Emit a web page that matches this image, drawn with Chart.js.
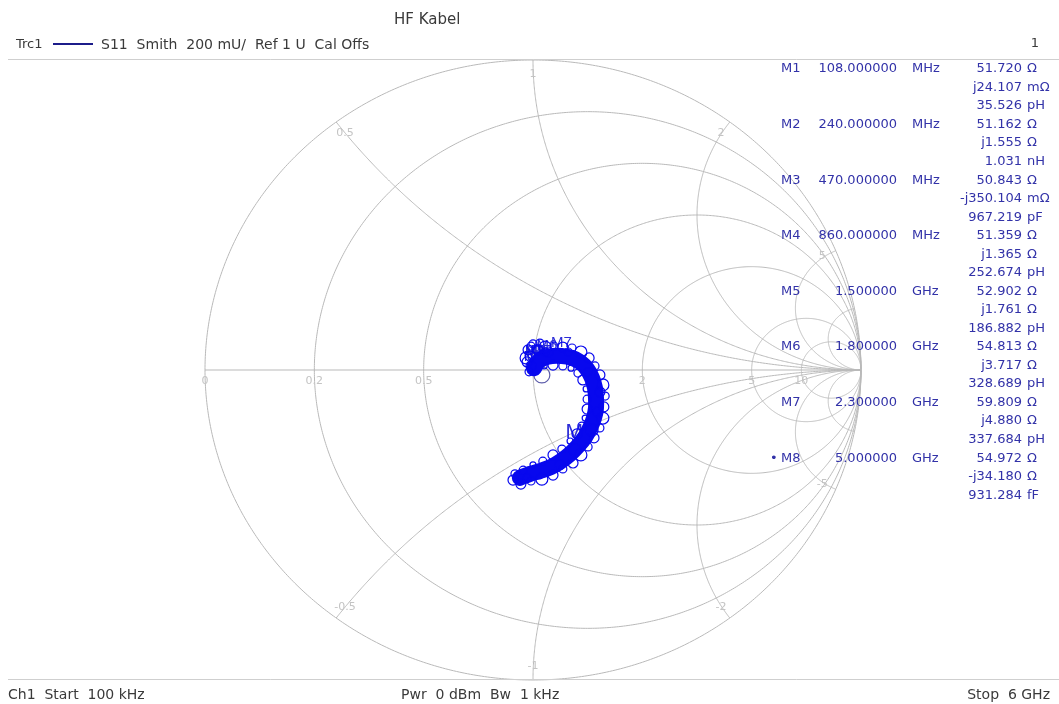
<!DOCTYPE html>
<html>
<head>
<meta charset="utf-8">
<title>HF Kabel – S11 Smith</title>
<script src="https://cdn.jsdelivr.net/npm/chart.js@4/dist/chart.umd.min.js"></script>
<style>
  html, body { margin: 0; padding: 0; background: #ffffff; overflow: hidden; }
  canvas { display: block; }
</style>
</head>
<body>
<canvas id="smith" width="1059" height="704"></canvas>
<script>
// Smith grid: constant-resistance circles and constant-reactance arcs (normalised to 50 Ω)
const resistanceCircles = [0, 0.2, 0.5, 1, 2, 5, 10];
const resistanceLabels  = ['0', '0.2', '0.5', '', '2', '5', '10'];
const reactanceArcs     = [0.5, 1, 2, 5, 10, -0.5, -1, -2, -5, -10];
const reactanceLabels   = ['0.5', '1', '2', '5', '', '-0.5', '-1', '-2', '-5', ''];

// S11 trace, reflection coefficient (real / imaginary), centre line of the measured band
const traceRe = [0.003, 0.015, 0.034, 0.058, 0.088, 0.119, 0.143, 0.165, 0.180, 0.189, 0.192,
                 0.192, 0.186, 0.174, 0.159, 0.137, 0.113, 0.085, 0.055, 0.021, -0.009, -0.040];
const traceIm = [0.006, 0.026, 0.039, 0.045, 0.045, 0.039, 0.026, 0.003, -0.026, -0.058, -0.090,
                 -0.123, -0.155, -0.187, -0.216, -0.245, -0.271, -0.294, -0.313, -0.326, -0.335, -0.348];

// scattered sweep points around the noisy trace
const spreadRe = [-0.009, 0.009, 0.037, 0.064, 0.091, 0.119, 0.146, 0.171, 0.189, 0.204, 0.213,
                  0.220, 0.216, 0.213, 0.204, 0.186, 0.168, 0.146, 0.122, 0.091, 0.061, 0.027,
                  -0.006, -0.037, -0.061,
                  -0.012, 0.034, 0.061, 0.091, 0.116, 0.137, 0.152, 0.162, 0.165, 0.165, 0.159,
                  0.149, 0.134, 0.113, 0.088, 0.061, 0.030, 0.000, -0.030, -0.055,
                  0.046, 0.107, 0.204, 0.180, 0.082, -0.018, -0.006, -0.018, 0.021, 0.198, 0.128, 0.168,
                  -0.015, 0.000, -0.021, 0.015, 0.037, -0.006];
const spreadIm = [0.045, 0.068, 0.074, 0.077, 0.074, 0.071, 0.058, 0.039, 0.013, -0.016, -0.048,
                  -0.084, -0.119, -0.155, -0.187, -0.219, -0.248, -0.274, -0.300, -0.319, -0.339, -0.352,
                  -0.358, -0.368, -0.355,
                  -0.006, 0.013, 0.016, 0.013, 0.006, -0.010, -0.032, -0.061, -0.094, -0.126, -0.155,
                  -0.181, -0.206, -0.229, -0.255, -0.274, -0.294, -0.306, -0.323, -0.335,
                  0.058, 0.058, -0.071, -0.194, -0.306, -0.348, 0.077, 0.026, 0.087, -0.135, -0.258, -0.006,
                  0.065, 0.084, 0.039, 0.065, 0.058, 0.013];
const spreadSize = [5, 4, 6, 4, 5, 4, 6, 5, 4, 5, 6,
                    4, 5, 6, 4, 5, 4, 6, 5, 4, 5, 6,
                    4, 5, 5,
                    4, 3, 5, 4, 3, 4, 5, 3, 4, 5, 3,
                    4, 5, 3, 4, 5, 4, 3, 4, 4,
                    5, 4, 5, 6, 5, 4, 4, 5, 4, 5, 6, 4,
                    5, 4, 6, 5, 4, 5];

// reference point symbol near the match point
const refSymbolRe = [0.027];
const refSymbolIm = [-0.016];

// marker table
const Z0 = 50;
const markerNames = ['M1', 'M2', 'M3', 'M4', 'M5', 'M6', 'M7', 'M8'];
const markerFreq  = ['108.000000', '240.000000', '470.000000', '860.000000', '1.500000', '1.800000', '2.300000', '5.000000'];
const markerFreqUnit = ['MHz', 'MHz', 'MHz', 'MHz', 'GHz', 'GHz', 'GHz', 'GHz'];
const markerR = [51.720, 51.162, 50.843, 51.359, 52.902, 54.813, 59.809, 54.972];     // Ω
const markerX = [0.024107, 1.555, -0.350104, 1.365, 1.761, 3.717, 4.880, -34.180];     // Ω
const markerLC = ['35.526', '1.031', '967.219', '252.674', '186.882', '328.689', '337.684', '931.284'];
const markerLCUnit = ['pH', 'nH', 'pF', 'pH', 'pH', 'pH', 'pH', 'fF'];
const activeMarker = 7;

const gridColor = '#b9b9b9';
const gridLabelColor = '#c4c4c4';
const traceColor = 'rgb(8, 8, 238)';
const tableColor = 'rgb(50, 50, 168)';
const textFont = '"DejaVu Sans", Verdana, sans-serif';

// impedance -> reflection coefficient
function toGamma(R, X) {
  const r = R / Z0, x = X / Z0;
  const a = r - 1, c = r + 1;
  const den = c * c + x * x;
  return { x: (a * c + x * x) / den, y: (x * c - a * x) / den };
}

function formatReactance(X) {
  const sign = X < 0 ? '-j' : 'j';
  const v = Math.abs(X);
  return v < 1 ? [sign + (v * 1000).toFixed(3), 'mΩ'] : [sign + v.toFixed(3), 'Ω'];
}

const markerPoints = markerR.map((R, i) => toGamma(R, markerX[i]));

const smithGrid = {
  id: 'smithGrid',
  beforeDatasetsDraw(chart) {
    const { ctx } = chart;
    const sx = chart.scales.x, sy = chart.scales.y;
    const P = (gr, gi) => [sx.getPixelForValue(gr), sy.getPixelForValue(gi)];
    ctx.save();
    ctx.strokeStyle = gridColor;
    ctx.lineWidth = 1;

    // constant resistance circles
    resistanceCircles.forEach(r => {
      const c = r / (1 + r), rad = 1 / (1 + r);
      ctx.beginPath();
      for (let i = 0; i <= 720; i++) {
        const t = i * Math.PI / 360;
        const [X, Y] = P(c + rad * Math.cos(t), rad * Math.sin(t));
        if (i === 0) ctx.moveTo(X, Y); else ctx.lineTo(X, Y);
      }
      ctx.stroke();
    });

    // real axis
    ctx.beginPath();
    let [ax, ay] = P(-1, 0); ctx.moveTo(ax, ay);
    [ax, ay] = P(1, 0); ctx.lineTo(ax, ay);
    ctx.stroke();

    // constant reactance arcs, clipped to the unit circle
    reactanceArcs.forEach(xv => {
      const a = Math.abs(xv), s = Math.sign(xv);
      const cy = 1 / a, rad = 1 / a;
      const ex = (a * a - 1) / (a * a + 1), ey = 2 * a / (a * a + 1);
      let t2 = Math.atan2(ey - cy, ex - 1);
      if (t2 > -Math.PI / 2) t2 -= 2 * Math.PI;
      const t1 = -Math.PI / 2;
      ctx.beginPath();
      for (let i = 0; i <= 400; i++) {
        const t = t1 + (t2 - t1) * i / 400;
        const [X, Y] = P(1 + rad * Math.cos(t), s * (cy + rad * Math.sin(t)));
        if (i === 0) ctx.moveTo(X, Y); else ctx.lineTo(X, Y);
      }
      ctx.stroke();
    });

    // grid labels
    ctx.fillStyle = gridLabelColor;
    ctx.font = '11px ' + textFont;
    ctx.textAlign = 'center';
    ctx.textBaseline = 'middle';
    resistanceCircles.forEach((r, i) => {
      if (!resistanceLabels[i]) return;
      const [X, Y] = P((r - 1) / (r + 1), 0);
      ctx.fillText(resistanceLabels[i], X, Y + 11);
    });
    reactanceArcs.forEach((xv, i) => {
      if (!reactanceLabels[i]) return;
      const a = Math.abs(xv), s = Math.sign(xv);
      const ex = (a * a - 1) / (a * a + 1), ey = s * 2 * a / (a * a + 1);
      const [X, Y] = P(ex * 0.955, ey * 0.955);
      ctx.fillText(reactanceLabels[i], X, Y);
    });

    // marker labels on the trace
    ctx.fillStyle = 'rgb(44, 44, 215)';
    ctx.textAlign = 'left';
    ctx.textBaseline = 'alphabetic';
    markerPoints.forEach((g, i) => {
      const [X, Y] = P(g.x, g.y);
      if (i === activeMarker) {
        ctx.font = '21px "Liberation Sans", Arial, sans-serif';
        ctx.fillText(markerNames[i], X - 13, Y - 19);
      } else {
        ctx.font = '15px "Liberation Sans", Arial, sans-serif';
        ctx.fillText(markerNames[i], X - 12, Y - 10);
      }
    });
    ctx.restore();
  }
};

const annotations = {
  id: 'annotations',
  afterDraw(chart) {
    const { ctx } = chart;
    ctx.save();
    // separators
    ctx.strokeStyle = '#cfcfcf';
    ctx.lineWidth = 1;
    ctx.beginPath();
    ctx.moveTo(8, 59.5); ctx.lineTo(1059, 59.5);
    ctx.moveTo(8, 679.5); ctx.lineTo(1059, 679.5);
    ctx.stroke();

    // header
    ctx.textBaseline = 'middle';
    ctx.fillStyle = '#3a3a3a';
    ctx.textAlign = 'left';
    ctx.font = '15px ' + textFont;
    ctx.fillText('HF Kabel', 394, 20);
    ctx.font = '13px ' + textFont;
    ctx.fillText('Trc1', 16, 45);
    ctx.font = '14px ' + textFont;
    ctx.fillText('S11  Smith  200 mU/  Ref 1 U  Cal Offs', 101, 45);
    ctx.textAlign = 'right';
    ctx.font = '13px ' + textFont;
    ctx.fillText('1', 1039, 44);
    ctx.strokeStyle = '#1c1c8a';
    ctx.lineWidth = 2;
    ctx.beginPath();
    ctx.moveTo(53, 44); ctx.lineTo(93, 44);
    ctx.stroke();

    // footer
    ctx.fillStyle = '#3a3a3a';
    ctx.font = '14px ' + textFont;
    ctx.textAlign = 'left';
    ctx.fillText('Ch1  Start  100 kHz', 8, 695);
    ctx.fillText('Pwr  0 dBm  Bw  1 kHz', 401, 695);
    ctx.textAlign = 'right';
    ctx.fillText('Stop  6 GHz', 1050, 695);

    // marker table
    ctx.fillStyle = tableColor;
    ctx.font = '13px ' + textFont;
    const rowH = 18.53;
    markerNames.forEach((name, i) => {
      const y0 = 69 + i * 3 * rowH;
      ctx.textAlign = 'left';
      ctx.fillText(name, 781, y0);
      if (i === activeMarker) ctx.fillText('•', 770, y0);
      ctx.textAlign = 'right';
      ctx.fillText(markerFreq[i], 897, y0);
      ctx.textAlign = 'left';
      ctx.fillText(markerFreqUnit[i], 912, y0);
      const rows = [
        [markerR[i].toFixed(3), 'Ω'],
        formatReactance(markerX[i]),
        [markerLC[i], markerLCUnit[i]]
      ];
      rows.forEach((row, k) => {
        const y = y0 + k * rowH;
        ctx.textAlign = 'right';
        ctx.fillText(row[0], 1022, y);
        ctx.textAlign = 'left';
        ctx.fillText(row[1], 1027, y);
      });
    });
    ctx.restore();
  }
};

const pts = (re, im) => re.map((v, i) => ({ x: v, y: im[i] }));

new Chart(document.getElementById('smith'), {
  type: 'scatter',
  data: {
    datasets: [
      {
        label: 'S11 spread',
        data: pts(spreadRe, spreadIm),
        showLine: false,
        pointRadius: spreadSize,
        pointBorderWidth: 1.2,
        pointBackgroundColor: 'rgba(0,0,0,0)',
        pointBorderColor: traceColor,
        order: 1
      },
      {
        label: 'S11',
        data: pts(traceRe, traceIm),
        showLine: true,
        borderColor: traceColor,
        borderWidth: 16,
        borderCapStyle: 'round',
        borderJoinStyle: 'round',
        tension: 0.35,
        pointRadius: 0,
        order: 2
      },
      {
        label: 'Ref',
        data: pts(refSymbolRe, refSymbolIm),
        showLine: false,
        pointRadius: 8,
        pointBorderWidth: 1.2,
        pointBackgroundColor: 'rgba(0,0,0,0)',
        pointBorderColor: 'rgb(92, 92, 170)',
        order: 3
      }
    ]
  },
  options: {
    responsive: false,
    animation: false,
    devicePixelRatio: 1,
    events: [],
    layout: { padding: { left: 205, right: 198, top: 60, bottom: 24 } },
    scales: {
      x: { type: 'linear', min: -1, max: 1, display: false },
      y: { type: 'linear', min: -1, max: 1, display: false }
    },
    plugins: {
      legend: { display: false },
      tooltip: { enabled: false },
      title: { display: false }
    }
  },
  plugins: [smithGrid, annotations]
});
</script>
</body>
</html>
